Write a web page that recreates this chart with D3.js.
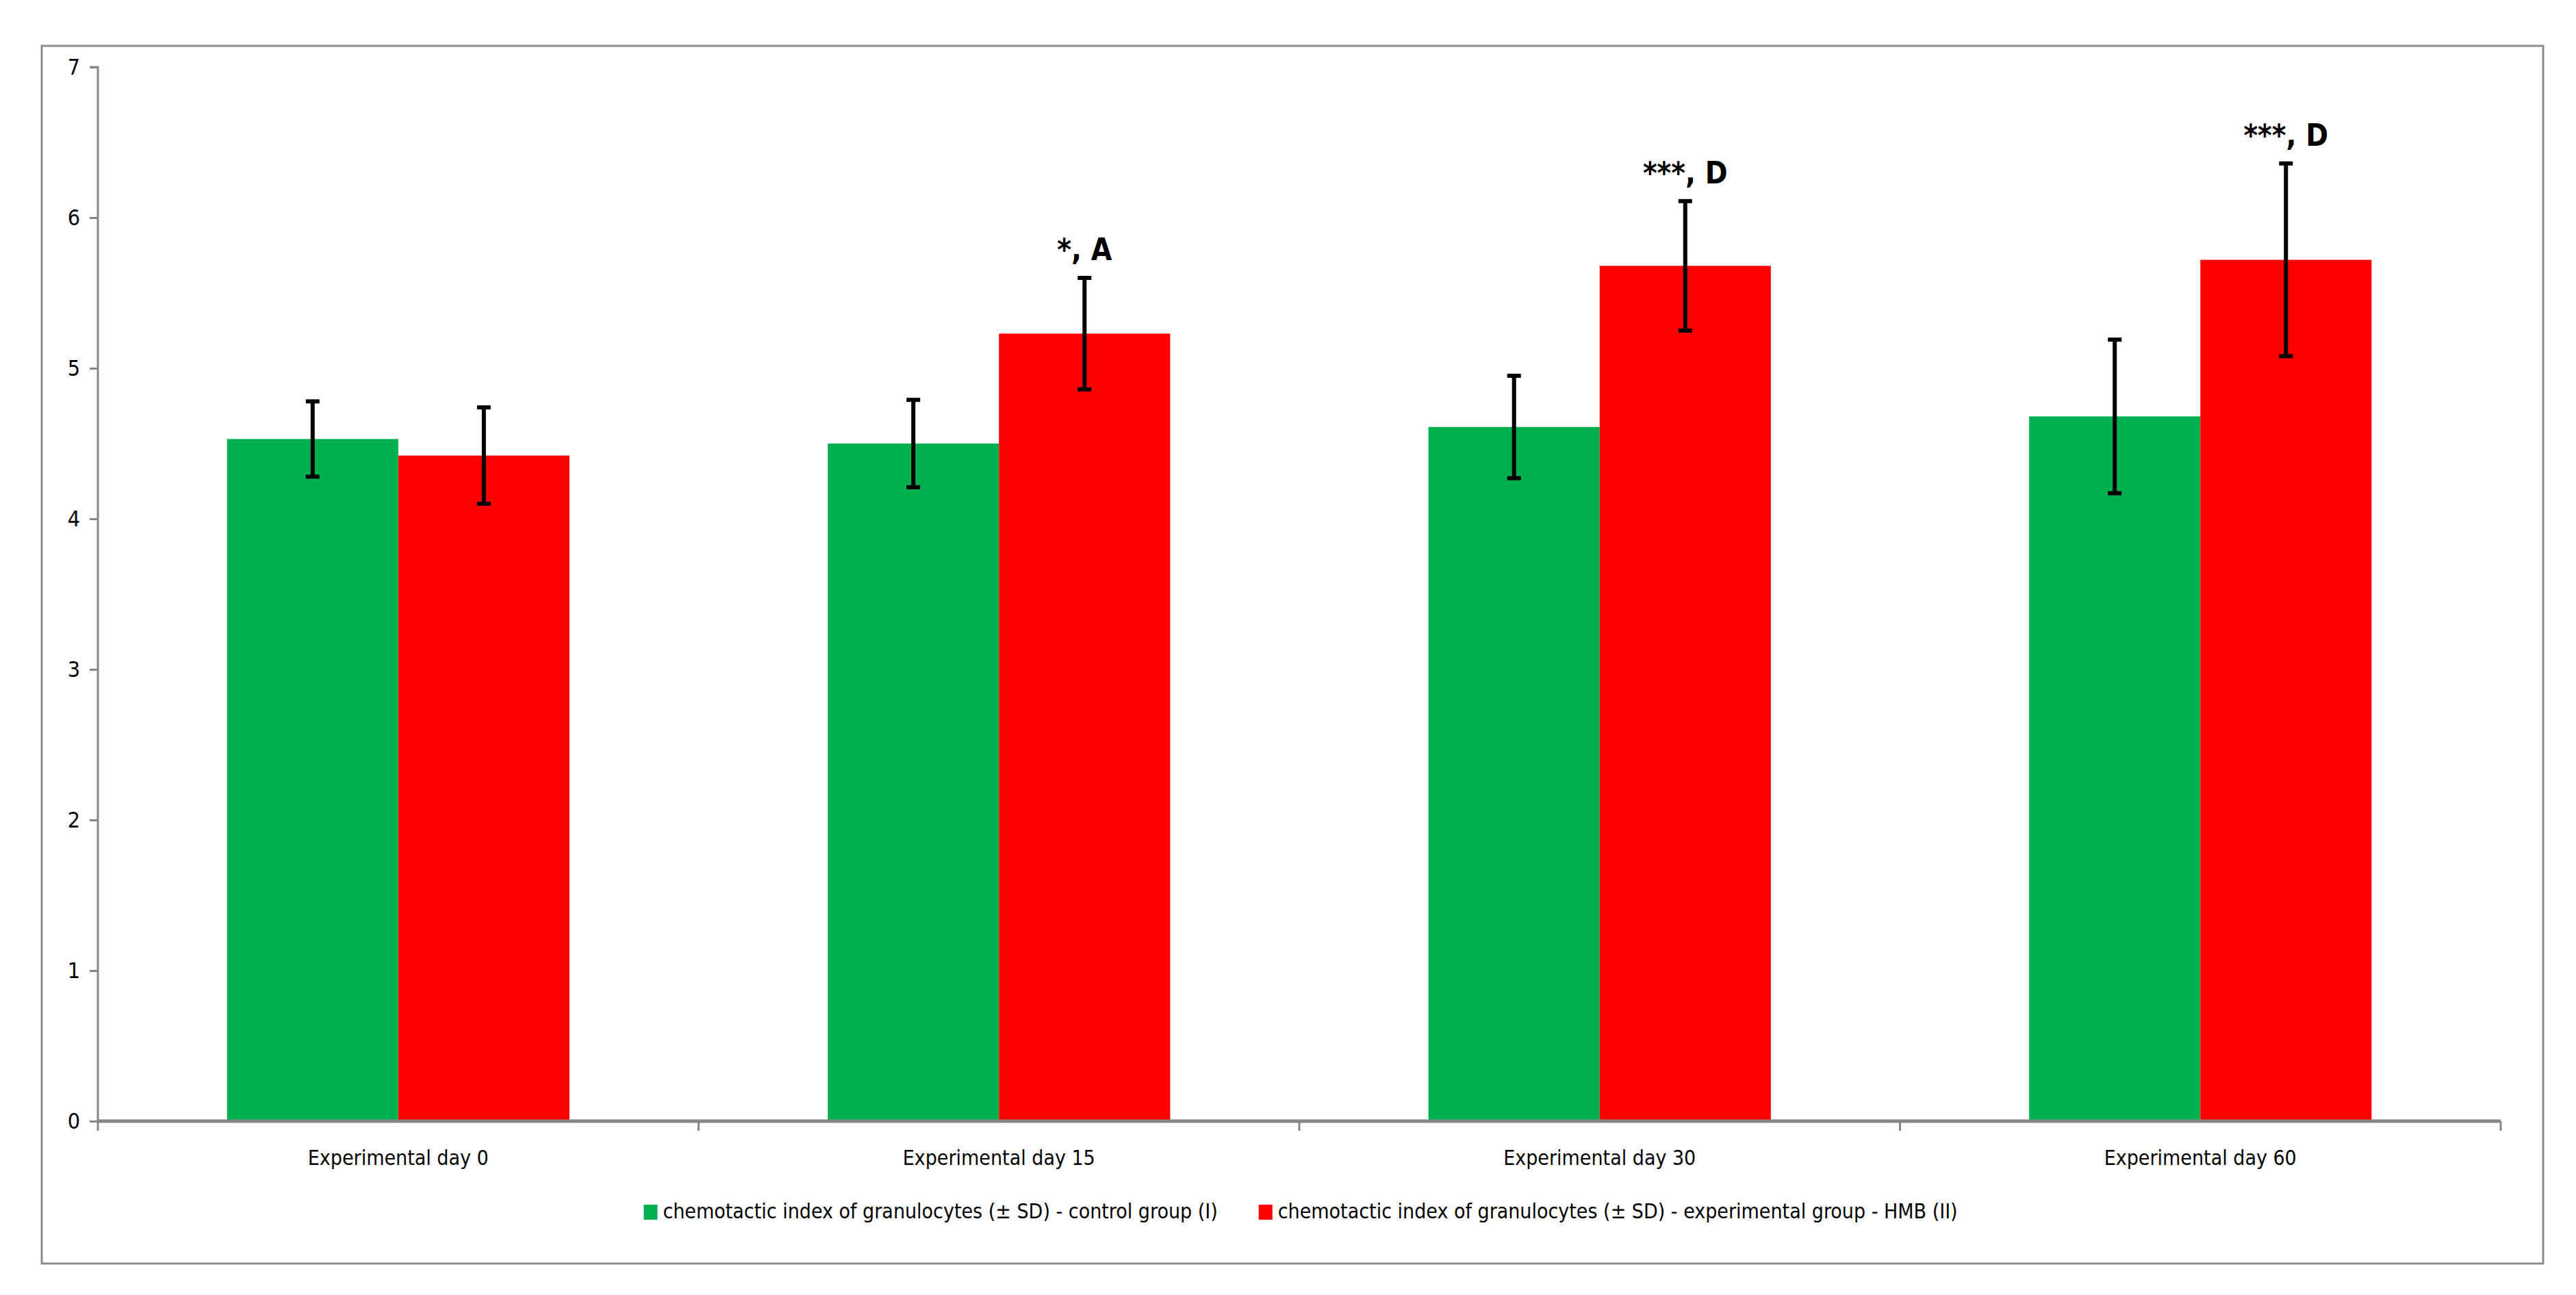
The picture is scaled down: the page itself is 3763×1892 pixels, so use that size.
<!DOCTYPE html>
<html>
<head>
<meta charset="utf-8">
<script src="https://cdn.jsdelivr.net/npm/d3@7"></script>
<style>
  body { margin: 0; background: #fff; }
  text { font-family: "DejaVu Sans Condensed", "Open Sans", sans-serif; }
</style>
</head>
<body>
<div id="chart"></div>
<script>
// Data
const categories = ['Experimental day 0', 'Experimental day 15', 'Experimental day 30', 'Experimental day 60'];
const controlMean = [4.53, 4.50, 4.61, 4.68];
const controlSD = [0.25, 0.29, 0.34, 0.51];
const hmbMean = [4.42, 5.23, 5.68, 5.72];
const hmbSD = [0.32, 0.37, 0.43, 0.64];
const hmbMarks = ['', '*, A', '***, D', '***, D'];
const yTicks = [0, 1, 2, 3, 4, 5, 6, 7];
const seriesNames = [
    'chemotactic index of granulocytes (\u00b1 SD) - control group (I)',
    'chemotactic index of granulocytes (\u00b1 SD) - experimental group - HMB (II)'
];
const colors = ['#00b050', '#ff0000'];

const W = 3763, H = 1892;
const margin = { top: 98, right: 110, bottom: 254, left: 143 };
const width = W - margin.left - margin.right;
const height = H - margin.top - margin.bottom;

const svg = d3.select('#chart').append('svg')
    .attr('width', W).attr('height', H);

// Outer chart border
svg.append('rect')
    .attr('x', 61).attr('y', 67).attr('width', 3654).attr('height', 1779)
    .attr('fill', 'none').attr('stroke', '#8c8c8c').attr('stroke-width', 3);

const g = svg.append('g').attr('transform', `translate(${margin.left},${margin.top})`);

const x0 = d3.scaleBand().domain(categories).range([0, width]);
const x1 = d3.scaleBand().domain([0, 1]).range([0, x0.bandwidth() * 0.57])
    .paddingInner(0).paddingOuter(0);
const y = d3.scaleLinear().domain([0, 7]).range([height, 0]);

const groupOffset = x0.bandwidth() * 0.215;

const rows = categories.map((c, i) => ({
    cat: c,
    vals: [
        { s: 0, m: controlMean[i], sd: controlSD[i], mark: '' },
        { s: 1, m: hmbMean[i], sd: hmbSD[i], mark: hmbMarks[i] }
    ]
}));

const groups = g.selectAll('g.grp').data(rows).enter().append('g')
    .attr('class', 'grp')
    .attr('transform', d => `translate(${x0(d.cat) + groupOffset},0)`);

groups.selectAll('rect').data(d => d.vals).enter().append('rect')
    .attr('x', d => x1(d.s))
    .attr('y', d => y(d.m))
    .attr('width', x1.bandwidth())
    .attr('height', d => height - y(d.m))
    .attr('fill', d => colors[d.s]);

// Error bars
const cap = 10;
const eb = groups.selectAll('g.eb').data(d => d.vals).enter().append('g').attr('class', 'eb');
eb.append('line')
    .attr('x1', d => x1(d.s) + x1.bandwidth() / 2)
    .attr('x2', d => x1(d.s) + x1.bandwidth() / 2)
    .attr('y1', d => y(d.m + d.sd)).attr('y2', d => y(d.m - d.sd))
    .attr('stroke', '#000').attr('stroke-width', 6);
['plus', 'minus'].forEach(k => {
    eb.append('line')
        .attr('x1', d => x1(d.s) + x1.bandwidth() / 2 - cap)
        .attr('x2', d => x1(d.s) + x1.bandwidth() / 2 + cap)
        .attr('y1', d => y(k === 'plus' ? d.m + d.sd : d.m - d.sd))
        .attr('y2', d => y(k === 'plus' ? d.m + d.sd : d.m - d.sd))
        .attr('stroke', '#000').attr('stroke-width', 6);
});
eb.append('text')
    .attr('x', d => x1(d.s) + x1.bandwidth() / 2)
    .attr('y', d => y(d.m + d.sd) - 26)
    .attr('text-anchor', 'middle')
    .attr('font-size', 44).attr('font-weight', 'bold')
    .text(d => d.mark);

// Y axis
const yAxis = g.append('g')
    .call(d3.axisLeft(y).tickValues(yTicks).tickFormat(d3.format('d')).tickSize(12).tickPadding(14));
yAxis.selectAll('text').attr('font-size', 32).attr('fill', '#000');
yAxis.selectAll('line, path').attr('stroke', '#868686').attr('stroke-width', 3);
yAxis.select('path').attr('d', `M-12,0H0V${height}`);

// X axis
const xAxis = g.append('g').attr('transform', `translate(0,${height})`);
xAxis.append('line').attr('x1', 0).attr('x2', width).attr('y1', 0).attr('y2', 0)
    .attr('stroke', '#868686').attr('stroke-width', 5);
xAxis.selectAll('line.tk').data(d3.range(categories.length + 1)).enter().append('line')
    .attr('class', 'tk')
    .attr('x1', i => i * x0.step()).attr('x2', i => i * x0.step())
    .attr('y1', 0).attr('y2', 14)
    .attr('stroke', '#868686').attr('stroke-width', 3);
xAxis.selectAll('text').data(categories).enter().append('text')
    .attr('x', d => x0(d) + x0.bandwidth() / 2)
    .attr('y', 64)
    .attr('text-anchor', 'middle')
    .attr('font-size', 30)
    .text(d => d);

// Legend
const legend = svg.append('g').attr('transform', 'translate(0,1780)');
const items = legend.selectAll('g').data(seriesNames).enter().append('g');
items.append('rect').attr('width', 20).attr('height', 22).attr('y', -20)
    .attr('fill', (d, i) => colors[i]);
items.append('text').attr('x', 28).attr('y', 0).attr('font-size', 30).text(d => d);
let offX = 0;
const widths = [];
items.each(function () { widths.push(this.getBBox().width); });
const total = d3.sum(widths) + 60;
offX = 1900 - total / 2;
items.attr('transform', (d, i) => {
    const t = `translate(${offX},0)`;
    offX += widths[i] + 60;
    return t;
});
</script>
</body>
</html>
